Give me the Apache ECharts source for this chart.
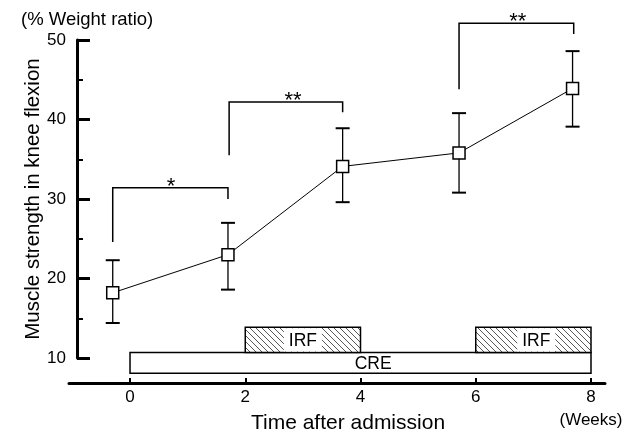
<!DOCTYPE html>
<html>
<head>
<meta charset="utf-8">
<script src="https://cdn.jsdelivr.net/npm/echarts@6/dist/echarts.min.js"></script>
<style>
html,body{margin:0;padding:0;background:#fff;}
#chart{width:629px;height:445px;}
</style>
</head>
<body>
<div id="chart"></div>
<script>
// ---- data ----
const weeks = [-0.30, 1.70, 3.69, 5.71, 7.68];
const means = [18.2, 23.0, 34.1, 35.8, 43.9];
const upper = [22.3, 27.0, 38.9, 40.8, 48.6];
const lower = [14.4, 18.6, 29.6, 30.8, 39.1];

const xTickValues = [0, 2, 4, 6, 8];
const yTickValues = [10, 20, 30, 40, 50];

// significance brackets
const bracketLeft = [-0.30, 1.72, 5.71];
const bracketRight = [1.70, 3.69, 7.70];
const bracketTop = [31.4, 42.2, 52.1];
const bracketLeftEnd = [24.6, 35.5, 43.8];
const bracketRightEnd = [30.0, 40.9, 50.75];
const bracketStarX = [0.71, 2.83, 6.73];
const bracketStars = ['*', '**', '**'];

// treatment periods
const phaseNames = ['CRE', 'IRF', 'IRF'];
const phaseStart = [0, 2, 6];
const phaseEnd = [8, 4, 8];
const phaseBottom = [8.07, 10.7, 10.7];
const phaseTop = [10.7, 13.86, 13.86];
const phaseLabelX = [4.22, 3.0, 7.05];
const phaseHatched = [0, 1, 1];

// ---- hatch pattern ----
function makeHatch() {
  const s = 6;
  const c = document.createElement('canvas');
  c.width = s; c.height = s;
  const g = c.getContext('2d');
  g.fillStyle = '#fff';
  g.fillRect(0, 0, s, s);
  g.strokeStyle = '#444';
  g.lineWidth = 0.9;
  g.beginPath();
  g.moveTo(0, 0); g.lineTo(s, s);
  g.moveTo(-1, s - 1); g.lineTo(1, s + 1);
  g.moveTo(s - 1, -1); g.lineTo(s + 1, 1);
  g.stroke();
  return c;
}
const hatch = makeHatch();

const FONT = "'Liberation Sans', Arial, sans-serif";
const chart = echarts.init(document.getElementById('chart'));

const pointData = weeks.map((w, i) => [w, means[i]]);
const errData = weeks.map((w, i) => [w, lower[i], upper[i]]);
const bracketData = bracketLeft.map((l, i) => [l, bracketRight[i], bracketTop[i], bracketLeftEnd[i], bracketRightEnd[i], bracketStarX[i]]);
const phaseData = phaseStart.map((s, i) => [s, phaseEnd[i], phaseBottom[i], phaseTop[i], phaseLabelX[i], phaseHatched[i]]);

chart.setOption({
  backgroundColor: '#fff',
  animation: false,
  textStyle: { fontFamily: FONT, color: '#000' },
  graphic: [{
    type: 'text', left: 21, top: 10,
    style: { text: '(% Weight ratio)', fontSize: 18.5, fontFamily: FONT, fill: '#000' }
  }],
  grid: [
    { left: 77, top: 40, width: 528, height: 318, outerBoundsMode: 'none', containLabel: false },
    { left: 69, top: 300, width: 536, height: 83, outerBoundsMode: 'none', containLabel: false }
  ],
  xAxis: [
    { type: 'value', gridIndex: 0, min: -0.92, max: 8.243, show: false, splitLine: { show: false } },
    {
      type: 'value', gridIndex: 1, min: -1.059, max: 8.243,
      name: 'Time after admission', nameLocation: 'middle', nameGap: 30, nameMoveOverlap: false,
      nameTextStyle: { fontSize: 21, color: '#000', fontFamily: FONT, padding: [0, 0, 0, 22] },
      axisLine: { show: true, onZero: false, lineStyle: { color: '#000', width: 3 } },
      axisTick: { show: true, inside: true, length: 5, customValues: xTickValues, lineStyle: { color: '#000', width: 2 } },
      axisLabel: {
        show: true, customValues: xTickValues, fontSize: 17, color: '#000', margin: 3, fontFamily: FONT,
        lineHeight: 23,
        formatter: v => v === 8 ? '8\n(Weeks)' : String(v)
      },
      splitLine: { show: false }
    }
  ],
  yAxis: [
    {
      type: 'value', gridIndex: 0, min: 10, max: 50, interval: 10,
      name: 'Muscle strength in knee flexion', nameLocation: 'middle', nameGap: 33, nameMoveOverlap: false,
      nameTextStyle: { fontSize: 20.5, color: '#000', fontFamily: FONT },
      axisLine: { show: true, onZero: false, lineStyle: { color: '#000', width: 3 } },
      axisTick: { show: true, inside: true, length: 13, lineStyle: { color: '#000', width: 3 } },
      minorTick: { show: true, splitNumber: 2, length: 6, lineStyle: { color: '#000', width: 2 } },
      axisLabel: { fontSize: 17, color: '#000', margin: 11, fontFamily: FONT },
      splitLine: { show: false },
      minorSplitLine: { show: false }
    },
    { type: 'value', gridIndex: 1, min: 0, max: 1, show: false, splitLine: { show: false } }
  ],
  series: [
    {
      type: 'custom', xAxisIndex: 0, yAxisIndex: 0, clip: false, z: 1,
      data: phaseData,
      renderItem: function (params, api) {
        const i = params.dataIndex;
        const p1 = api.coord([api.value(0), api.value(3)]);
        const p2 = api.coord([api.value(1), api.value(2)]);
        const lab = api.coord([api.value(4), (api.value(2) + api.value(3)) / 2]);
        const hatched = api.value(5) === 1;
        const children = [{
          type: 'rect',
          shape: { x: p1[0], y: p1[1], width: p2[0] - p1[0], height: p2[1] - p1[1] },
          style: { fill: hatched ? { image: hatch, repeat: 'repeat' } : '#fff', stroke: '#000', lineWidth: 1.5 }
        }];
        if (hatched) {
          children.push({
            type: 'rect',
            shape: { x: lab[0] - 19, y: p1[1] + 1, width: 38, height: p2[1] - p1[1] - 2 },
            style: { fill: '#fff' }
          });
        }
        children.push({
          type: 'text',
          style: { text: phaseNames[i], x: lab[0], y: lab[1] + 1, align: 'center', verticalAlign: 'middle', fontSize: 17.5, fontFamily: FONT, fill: '#000' }
        });
        return { type: 'group', children: children };
      }
    },
    {
      type: 'custom', xAxisIndex: 0, yAxisIndex: 0, clip: false, z: 2,
      data: bracketData,
      renderItem: function (params, api) {
        const i = params.dataIndex;
        const tl = api.coord([api.value(0), api.value(2)]);
        const tr = api.coord([api.value(1), api.value(2)]);
        const bl = api.coord([api.value(0), api.value(3)]);
        const br = api.coord([api.value(1), api.value(4)]);
        const st = api.coord([api.value(5), api.value(2)]);
        return {
          type: 'group', children: [
            { type: 'polyline', shape: { points: [bl, tl, tr, br] }, style: { stroke: '#000', lineWidth: 1.5, fill: null } },
            { type: 'text', style: { text: bracketStars[i], x: st[0], y: st[1] - 1, align: 'center', verticalAlign: 'middle', fontSize: 22, fontFamily: FONT, fill: '#000' } }
          ]
        };
      }
    },
    {
      type: 'custom', xAxisIndex: 0, yAxisIndex: 0, clip: false, z: 3,
      data: errData,
      renderItem: function (params, api) {
        const hi = api.coord([api.value(0), api.value(2)]);
        const lo = api.coord([api.value(0), api.value(1)]);
        const w = 7;
        return {
          type: 'group', children: [
            { type: 'line', shape: { x1: hi[0], y1: hi[1], x2: lo[0], y2: lo[1] }, style: { stroke: '#000', lineWidth: 1.3 } },
            { type: 'line', shape: { x1: hi[0] - w, y1: hi[1], x2: hi[0] + w, y2: hi[1] }, style: { stroke: '#000', lineWidth: 2 } },
            { type: 'line', shape: { x1: lo[0] - w, y1: lo[1], x2: lo[0] + w, y2: lo[1] }, style: { stroke: '#000', lineWidth: 2 } }
          ]
        };
      }
    },
    {
      type: 'line', xAxisIndex: 0, yAxisIndex: 0, z: 4,
      data: pointData,
      symbol: 'rect', symbolSize: 12,
      itemStyle: { color: '#fff', borderColor: '#000', borderWidth: 1.5 },
      lineStyle: { color: '#000', width: 1 }
    }
  ]
});
</script>
</body>
</html>
